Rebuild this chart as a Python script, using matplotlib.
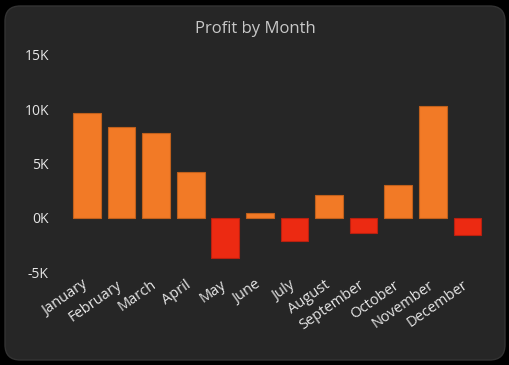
import matplotlib
matplotlib.use("Agg")
import matplotlib.pyplot as plt
from matplotlib.patches import FancyBboxPatch
from matplotlib.ticker import FuncFormatter
from matplotlib.transforms import ScaledTranslation

months = ["January", "February", "March", "April", "May", "June", "July",
          "August", "September", "October", "November", "December"]
profit = [9.7, 8.4, 7.8, 4.2, -3.7, 0.45, -2.1, 2.1, -1.4, 3.0, 10.3, -1.6]  # thousands
yticks = [-5, 0, 5, 10, 15]

plt.rcParams['font.family'] = ['Open Sans', 'DejaVu Sans']

W, H = 510, 365
fig = plt.figure(figsize=(W / 100, H / 100), dpi=100)
fig.patch.set_facecolor("black")

card = FancyBboxPatch((5 / W, 5 / H), 500 / W, 354 / H,
                      boxstyle="round,pad=0,rounding_size=0.03",
                      transform=fig.transFigure, facecolor="#262626",
                      edgecolor="#333333", linewidth=1.0, zorder=-10,
                      mutation_aspect=W / H)
fig.patches.append(card)

ax = fig.add_axes([69.7 / W, 1 - 272 / H, 415 / W, (272 - 55) / H])
ax.set_facecolor("none")
ax.set_zorder(5)

colors = ["#F27A26" if v >= 0 else "#EC2A12" for v in profit]
edges = ["#C0601C" if v >= 0 else "#B82010" for v in profit]
ax.bar(range(len(months)), profit, width=0.8, color=colors,
       edgecolor=edges, linewidth=0.8)

ax.set_xlim(-0.5, len(months) - 0.5)
ax.set_ylim(-5, 15)
ax.set_yticks(yticks)
ax.yaxis.set_major_formatter(FuncFormatter(lambda v, p: f"{int(v)}K"))
ax.set_xticks(range(len(months)))
ax.set_xticklabels(months, rotation=35, ha="right", va="top",
                   rotation_mode="anchor")
ax.tick_params(axis="both", length=0, colors="#E6E6E6", labelsize=10)
ax.tick_params(axis="y", pad=15)
ax.tick_params(axis="x", pad=4)
shift = ScaledTranslation(-5 / 100, 0, fig.dpi_scale_trans)
for lbl in ax.get_xticklabels():
    lbl.set_fontsize(10.5)
    lbl.set_transform(lbl.get_transform() + shift)
for s in ax.spines.values():
    s.set_visible(False)

fig.text(0.5, 1 - 29 / H, "Profit by Month", ha="center", va="center",
         color="#C8C8C8", fontsize=12, zorder=10)

fig.savefig("out.png", dpi=100, facecolor=fig.get_facecolor())
